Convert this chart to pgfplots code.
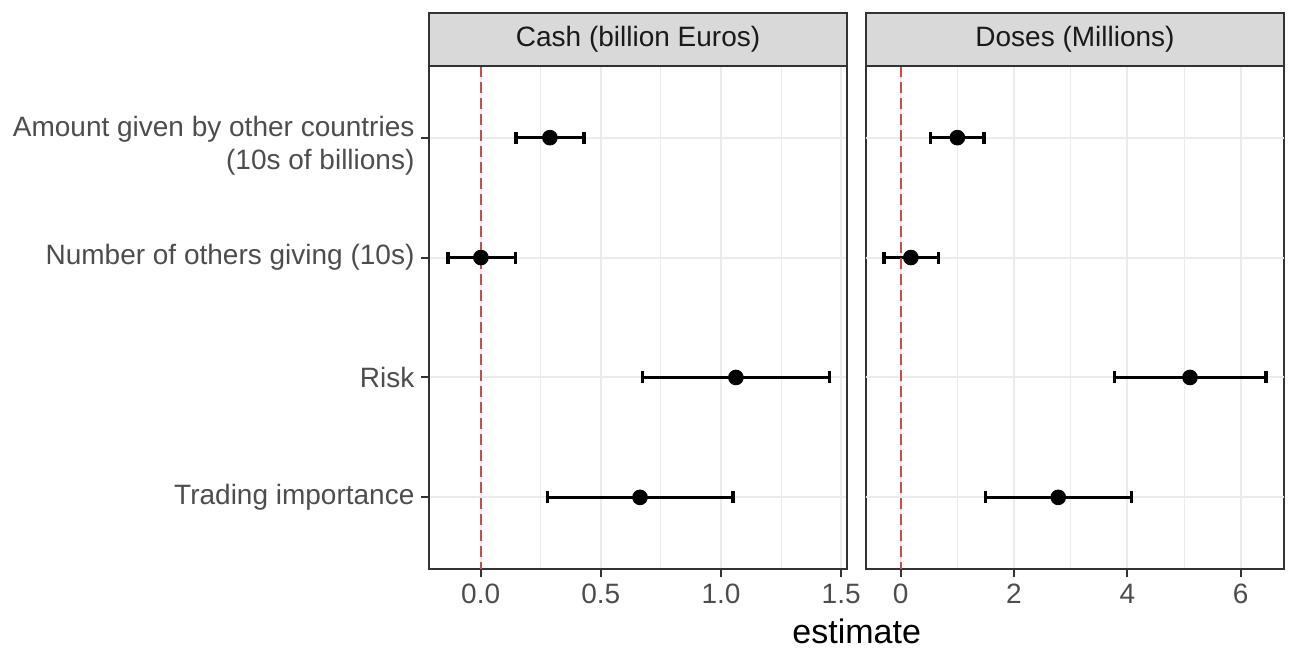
\documentclass[border=0pt]{standalone}
\usepackage{fontspec}
\setmainfont{Liberation Sans}
\usepackage{pgfplots}
\pgfplotsset{compat=1.18}
\usepackage{pgfplotstable}
\definecolor{framec}{HTML}{333333}
\definecolor{gridc}{HTML}{EBEBEB}
\definecolor{stripc}{HTML}{D9D9D9}
\definecolor{tickc}{HTML}{4D4D4D}
\definecolor{striptext}{HTML}{1A1A1A}
\definecolor{vline}{HTML}{C0504D}

\pgfplotstableread{
pos est lo hi
1 0.288 0.147 0.430
2 0.001 -0.136 0.146
3 1.062 0.673 1.451
4 0.663 0.279 1.050
}\cash
\pgfplotstableread{
pos est lo hi
1 1.000 0.530 1.470
2 0.180 -0.295 0.664
3 5.105 3.770 6.446
4 2.780 1.493 4.070
}\doses

\pgfplotsset{
  panel/.style={
    scale only axis, height=251.8pt,
    ymin=0.4, ymax=4.6, y dir=reverse,
    axis line style={framec, line width=1pt},
    tick style={framec, line width=1pt},
    major tick length=4pt, minor tick length=0pt,
    tick align=outside, tick pos=left,
    major grid style={gridc, line width=1pt},
    minor grid style={gridc, line width=0.5pt},
    ticklabel style={font=\fontsize{14}{16.5}\selectfont, text=tickc},
    /pgf/number format/assume math mode=true,
    clip=false,
  },
  ci/.style={only marks, mark=*, mark size=3.7pt, black,
    error bars/.cd, x dir=both, x explicit,
    error mark=|,
    error bar style={line width=1.6pt, black},
    error mark options={line width=1.6pt, mark size=3pt, black}},
}

\begin{document}
\begin{tikzpicture}
\begin{axis}[panel,
  width=208.6pt, at={(0pt,0pt)}, anchor=south west,
  xmin=-0.213, xmax=1.523,
  xtick={0,0.5,1,1.5}, minor xtick={0.25,0.75,1.25},
  xticklabel style={/pgf/number format/fixed, /pgf/number format/fixed zerofill, /pgf/number format/precision=1},
  ytick={1,2,3,4},
  yticklabels={{\rule{0pt}{18pt}Amount given by other countries\\(10s of billions)},{Number of others giving (10s)},{Risk},{Trading importance}},
  yticklabel style={align=right},
  grid=both,
]
\addplot[ci] table[x=est, y=pos, x error plus expr=\thisrow{hi}-\thisrow{est}, x error minus expr=\thisrow{est}-\thisrow{lo}] {\cash};
\addplot[vline, line width=1.1pt, dash pattern=on 5.5pt off 2.5pt] coordinates {(0,0.4) (0,4.6)};
\draw[fill=stripc, draw=framec, line width=1pt] (axis description cs:0,1) rectangle ([yshift=26.2pt]axis description cs:1,1);
\node[text=striptext, font=\fontsize{14}{16.5}\selectfont] at ([yshift=13.1pt]axis description cs:0.5,1) {Cash (billion Euros)};
\end{axis}
\begin{axis}[panel,
  width=209pt, at={(218.25pt,0pt)}, anchor=south west,
  xmin=-0.612, xmax=6.764,
  xtick={0,2,4,6}, minor xtick={1,3,5},
  ytick=\empty,
  extra y ticks={1,2,3,4}, extra y tick labels={},
  extra y tick style={major tick length=0pt, grid=major, major grid style={gridc, line width=1pt}},
  xmajorgrids, xminorgrids,
]
\addplot[ci] table[x=est, y=pos, x error plus expr=\thisrow{hi}-\thisrow{est}, x error minus expr=\thisrow{est}-\thisrow{lo}] {\doses};
\addplot[vline, line width=1.1pt, dash pattern=on 5.5pt off 2.5pt] coordinates {(0,0.4) (0,4.6)};
\draw[fill=stripc, draw=framec, line width=1pt] (axis description cs:0,1) rectangle ([yshift=26.2pt]axis description cs:1,1);
\node[text=striptext, font=\fontsize{14}{16.5}\selectfont] at ([yshift=13.1pt]axis description cs:0.5,1) {Doses (Millions)};
\end{axis}
\node[anchor=base, font=\fontsize{17}{20}\selectfont] at (213.6pt,-37.35pt) {estimate};
\path (-214.75pt,-39.35pt) rectangle (430.25pt,284.65pt);
\end{tikzpicture}
\end{document}
